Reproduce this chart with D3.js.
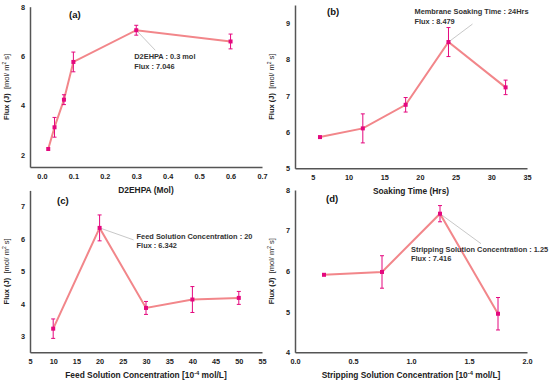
<!DOCTYPE html>
<html>
<head>
<meta charset="utf-8">
<script src="https://cdn.jsdelivr.net/npm/d3@7"></script>
<style>
  body { margin: 0; background: #fff; }
  svg { font-family: "Liberation Sans", Arial, sans-serif; }
  .tick text { font-weight: bold; font-size: 7.3px; fill: #222; }
  .axis path.domain { stroke: #555; stroke-width: 1.5; }
  .x-title { font-weight: bold; font-size: 8.4px; fill: #222; }
  .y-title { font-size: 7.5px; fill: #222; }
  .panel-label { font-weight: bold; font-size: 9.5px; fill: #111; }
  .note { font-weight: bold; font-size: 7.4px; fill: #333; }
</style>
</head>
<body>
<svg id="chart" width="550" height="387"></svg>
<script>
// (a) D2EHPA
const aX = [0.02, 0.04, 0.07, 0.1, 0.3, 0.6];
const aY = [2.23, 3.11, 4.23, 5.76, 7.046, 6.59];
const aErr = [0, 0.4, 0.2, 0.4, 0.2, 0.3];
const aXTicks = [0, 0.1, 0.2, 0.3, 0.4, 0.5, 0.6, 0.7];
const aYTicks = [2, 4, 6, 8];
const aNote = ['D2EHPA : 0.3 mol', 'Flux : 7.046'];

// (b) soaking time
const bX = [6, 12, 18, 24, 32];
const bY = [5.86, 6.1, 6.75, 8.479, 7.23];
const bErr = [0, 0.4, 0.2, 0.4, 0.2];
const bXTicks = [5, 10, 15, 20, 25, 30, 35];
const bYTicks = [5, 6, 7, 8, 9];
const bNote = ['Membrane Soaking Time : 24Hrs', 'Flux : 8.479'];

// (c) feed concentration
const cX = [10, 20, 30, 40, 50];
const cY = [3.23, 6.342, 3.87, 4.13, 4.18];
const cErr = [0.3, 0.4, 0.2, 0.4, 0.2];
const cXTicks = [5, 10, 15, 20, 25, 30, 35, 40, 45, 50, 55];
const cYTicks = [3, 4, 5, 6, 7];
const cNote = ['Feed Solution Concentration : 20', 'Flux : 6.342'];

// (d) stripping concentration
const dX = [0.25, 0.75, 1.25, 1.75];
const dY = [5.91, 5.98, 7.416, 4.95];
const dErr = [0, 0.4, 0.2, 0.4];
const dXTicks = [0, 0.5, 1.0, 1.5, 2.0];
const dYTicks = [4, 5, 6, 7, 8];
const dNote = ['Stripping Solution Concentration : 1.25', 'Flux : 7.416'];

const lineColor = '#f2868a';
const markColor = '#e4087e';

const svg = d3.select('#chart');

function drawPanel(cfg) {
  const g = svg.append('g');

  const x = d3.scaleLinear().domain(cfg.xDomain).range([cfg.left, cfg.right]);
  const y = d3.scaleLinear().domain(cfg.yDomain).range([cfg.bottom, cfg.top]);

  // axes, no tick marks
  g.append('g')
    .attr('class', 'axis')
    .attr('transform', `translate(0,${cfg.bottom})`)
    .call(d3.axisBottom(x).tickValues(cfg.xTicks).tickSize(0).tickPadding(7).tickFormat(cfg.xFormat))
    .call(a => a.selectAll('.tick text').attr('font-family', null).attr('font-size', null));

  g.append('g')
    .attr('class', 'axis')
    .attr('transform', `translate(${cfg.left},0)`)
    .call(d3.axisLeft(y).tickValues(cfg.yTicks).tickSize(0).tickPadding(5).tickFormat(d3.format('d')))
    .call(a => a.selectAll('.tick text').attr('font-family', null).attr('font-size', null));

  // axis titles
  const xt = g.append('text')
    .attr('class', 'x-title')
    .attr('x', (cfg.left + cfg.right) / 2)
    .attr('y', cfg.bottom + 26)
    .attr('text-anchor', 'middle');
  cfg.xTitle.forEach(p => {
    xt.append('tspan').text(p.t).attr('font-size', p.sup ? '5.8px' : null).attr('dy', p.sup ? -3 : (p.after ? 3 : 0));
  });

  const yt = g.append('text')
    .attr('class', 'y-title')
    .attr('transform', `translate(${cfg.left - 21},${(cfg.top + cfg.bottom) / 2}) rotate(-90)`)
    .attr('text-anchor', 'middle');
  yt.append('tspan').attr('font-weight', 'bold').text('Flux (J)');
  yt.append('tspan').text('\u00a0 [mol/ m');
  yt.append('tspan').attr('font-size', '5px').attr('dy', -3).text('2');
  yt.append('tspan').attr('dy', 3).text(' s]');

  // panel label
  g.append('text')
    .attr('class', 'panel-label')
    .attr('x', cfg.labelPos[0])
    .attr('y', cfg.labelPos[1])
    .text(cfg.label);

  const data = cfg.xs.map((v, i) => ({ x: v, y: cfg.ys[i], e: cfg.errs[i] }));

  // annotation leader line
  const hi = data[cfg.noteIndex];
  g.append('line')
    .attr('x1', x(hi.x)).attr('y1', y(hi.y))
    .attr('x2', x(hi.x) + cfg.noteLine[0]).attr('y2', y(hi.y) + cfg.noteLine[1])
    .attr('stroke', '#c8c8c8')
    .attr('stroke-width', 1);

  // connecting line
  g.append('path')
    .datum(data)
    .attr('fill', 'none')
    .attr('stroke', lineColor)
    .attr('stroke-width', 2)
    .attr('d', d3.line().x(d => x(d.x)).y(d => y(d.y)));

  // error bars
  const eb = g.selectAll('.err')
    .data(data.filter(d => d.e > 0))
    .enter().append('g')
    .attr('class', 'err')
    .attr('stroke', markColor)
    .attr('stroke-width', 1);
  eb.append('line')
    .attr('x1', d => x(d.x)).attr('x2', d => x(d.x))
    .attr('y1', d => y(d.y - d.e)).attr('y2', d => y(d.y + d.e));
  eb.append('line')
    .attr('x1', d => x(d.x) - 2).attr('x2', d => x(d.x) + 2)
    .attr('y1', d => y(d.y + d.e)).attr('y2', d => y(d.y + d.e));
  eb.append('line')
    .attr('x1', d => x(d.x) - 2).attr('x2', d => x(d.x) + 2)
    .attr('y1', d => y(d.y - d.e)).attr('y2', d => y(d.y - d.e));

  // markers
  g.selectAll('.mark')
    .data(data)
    .enter().append('rect')
    .attr('class', 'mark')
    .attr('x', d => x(d.x) - 2)
    .attr('y', d => y(d.y) - 2)
    .attr('width', 4)
    .attr('height', 4)
    .attr('fill', markColor);

  // annotation text
  g.selectAll('.note')
    .data(cfg.note)
    .enter().append('text')
    .attr('class', 'note')
    .attr('x', x(hi.x) + cfg.noteText[0])
    .attr('y', (d, i) => y(hi.y) + cfg.noteText[1] + i * 9.5)
    .text(d => d);
}

drawPanel({
  xs: aX, ys: aY, errs: aErr, xTicks: aXTicks, yTicks: aYTicks, note: aNote, noteIndex: 4,
  xDomain: [-0.038, 0.7], yDomain: [1.5, 8],
  left: 30, right: 262, top: 6.7, bottom: 167,
  xFormat: d3.format('.1f'),
  xTitle: [{ t: 'D2EHPA (Mol)' }],
  label: '(a)', labelPos: [69, 18],
  noteLine: [19, 20], noteText: [-2, 29]
});

drawPanel({
  xs: bX, ys: bY, errs: bErr, xTicks: bXTicks, yTicks: bYTicks, note: bNote, noteIndex: 3,
  xDomain: [2.5, 35], yDomain: [5, 9.5],
  left: 295, right: 527, top: 5, bottom: 168.3,
  xFormat: d3.format('d'),
  xTitle: [{ t: 'Soaking Time (Hrs)' }],
  label: '(b)', labelPos: [327, 15],
  noteLine: [24, -18], noteText: [-34, -28]
});

drawPanel({
  xs: cX, ys: cY, errs: cErr, xTicks: cXTicks, yTicks: cYTicks, note: cNote, noteIndex: 1,
  xDomain: [5, 55], yDomain: [2.5, 7.5],
  left: 30, right: 262, top: 190.4, bottom: 352.3,
  xFormat: d3.format('d'),
  xTitle: [{ t: 'Feed Solution Concentration [10' }, { t: '-4', sup: true }, { t: ' mol/L]', after: true }],
  label: '(c)', labelPos: [57, 204],
  noteLine: [34, 12], noteText: [37, 11]
});

drawPanel({
  xs: dX, ys: dY, errs: dErr, xTicks: dXTicks, yTicks: dYTicks, note: dNote, noteIndex: 2,
  xDomain: [0, 2], yDomain: [4, 8],
  left: 295, right: 527, top: 190, bottom: 352.3,
  xFormat: d3.format('.1f'),
  xTitle: [{ t: 'Stripping Solution Concentration [10' }, { t: '-4', sup: true }, { t: ' mol/L]', after: true }],
  label: '(d)', labelPos: [326, 202],
  noteLine: [41, 30], noteText: [-29, 38]
});
</script>
</body>
</html>
